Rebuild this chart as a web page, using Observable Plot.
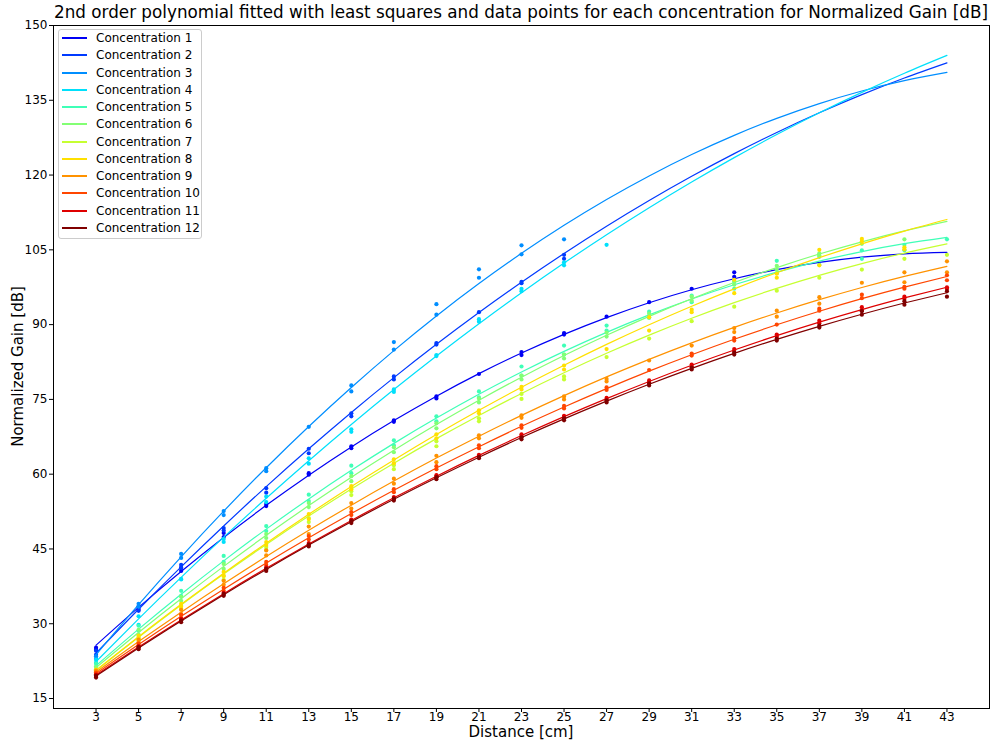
<!DOCTYPE html>
<html><head><meta charset="utf-8">
<script src="https://cdn.jsdelivr.net/npm/d3@7"></script>
<script src="https://cdn.jsdelivr.net/npm/@observablehq/plot@0.6"></script>
<style>
body{margin:0;background:#fff;font-family:"DejaVu Sans",sans-serif;color:#000;}
#wrap{position:relative;width:992px;height:740px;overflow:hidden;background:#fff;}
#chart{position:absolute;left:0;top:0;}
#title{position:absolute;left:53px;width:936px;top:3px;text-align:center;font-size:16.8px;line-height:19px;white-space:nowrap;}
#xlabel{position:absolute;left:53px;width:936px;top:724.5px;text-align:center;font-size:15px;line-height:15px;height:15px;white-space:nowrap;}
#ylabel{position:absolute;left:18px;top:366.5px;width:300px;height:17px;margin-left:-150px;margin-top:-8.5px;line-height:17px;text-align:center;font-size:15px;transform:rotate(-90deg);white-space:nowrap;}
#legend{position:absolute;left:58px;top:29px;width:144px;height:210px;border:1px solid #cccccc;border-radius:3px;background:rgba(255,255,255,0.8);box-sizing:border-box;}
.sw{position:absolute;left:62px;width:25px;height:1.4px;}
.lt{position:absolute;left:96px;height:16px;line-height:16px;font-size:12px;white-space:nowrap;}
</style>
</head><body>
<div id="wrap">
  <div id="chart"></div>
  <div id="title">2nd order polynomial fitted with least squares and data points for each concentration for Normalized Gain [dB]</div>
  <div id="ylabel">Normalized Gain [dB]</div>
  <div id="xlabel">Distance [cm]</div>
  <div id="legend"></div>
</div>
<script>
const distances = [3,5,7,9,11,13,15,17,19,21,23,25,27,29,31,33,35,37,39,41,43];
const xTicks = [3,5,7,9,11,13,15,17,19,21,23,25,27,29,31,33,35,37,39,41,43];
const yTicks = [15,30,45,60,75,90,105,120,135,150];
const concentrations = ["Concentration 1","Concentration 2","Concentration 3","Concentration 4","Concentration 5","Concentration 6","Concentration 7","Concentration 8","Concentration 9","Concentration 10","Concentration 11","Concentration 12"];
const colors = ["#0000f4","#003aff","#008eff","#00e0fb","#3fffb7","#83ff74","#c6ff31","#ffe000","#ff9200","#ff4600","#df0000","#800000"];

// fitted curve values at each distance
const fit1 = [25.7,33.29,40.49,47.31,53.75,59.8,65.47,70.75,75.65,80.17,84.3,88.05,91.41,94.39,96.99,99.2,101.03,102.47,103.53,104.21,104.5];
const fit2 = [24.1,32.91,41.41,49.61,57.51,65.1,72.39,79.37,86.05,92.43,98.5,104.27,109.73,114.89,119.75,124.3,128.55,132.49,136.13,139.47,142.5];
const fit3 = [23.78,33.82,43.42,52.58,61.3,69.57,77.4,84.79,91.74,98.24,104.3,109.92,115.1,119.83,124.12,127.97,131.38,134.34,136.86,138.94,140.58];
const fit4 = [22.4,30.99,39.31,47.37,55.17,62.7,69.97,76.97,83.71,90.19,96.4,102.35,108.03,113.45,118.61,123.5,128.13,132.49,136.59,140.43,144.0];
const fit5 = [21.59,28.92,35.93,42.61,48.98,55.04,60.77,66.18,71.27,76.05,80.5,84.64,88.45,91.95,95.13,97.99,100.52,102.75,104.65,106.23,107.49];
const fit6 = [21.2,28.24,35.01,41.51,47.74,53.7,59.39,64.81,69.96,74.84,79.45,83.79,87.86,91.66,95.19,98.45,101.44,104.16,106.61,108.79,110.7];
const fit7 = [20.6,27.31,33.77,39.97,45.91,51.6,57.03,62.21,67.13,71.79,76.2,80.35,84.25,87.89,91.27,94.4,97.27,99.89,102.25,104.35,106.2];
const fit8 = [20.69,27.41,33.89,40.15,46.17,51.96,57.52,62.85,67.95,72.81,77.45,81.85,86.03,89.97,93.68,97.16,100.41,103.43,106.21,108.77,111.09];
const fit9 = [20.3,26.42,32.33,38.02,43.49,48.75,53.79,58.62,63.23,67.62,71.8,75.76,79.51,83.04,86.35,89.45,92.33,95.0,97.45,99.68,101.7];
const fit10 = [20.0,25.84,31.49,36.94,42.19,47.25,52.11,56.77,61.25,65.52,69.6,73.48,77.17,80.67,83.96,87.07,89.97,92.68,95.2,97.52,99.65];
const fit11 = [19.7,25.33,30.77,36.04,41.12,46.01,50.73,55.26,59.6,63.77,67.75,71.55,75.16,78.6,81.85,84.91,87.8,90.5,93.01,95.35,97.5];
const fit12 = [19.5,25.13,30.57,35.83,40.9,45.78,50.47,54.97,59.28,63.41,67.35,71.1,74.66,78.04,81.23,84.23,87.04,89.66,92.09,94.34,96.4];

// measured data points, one list per distance (starting at 3 cm)
const pts1 = [[25.2,24.8],[33.2,32.8],[41.2,40.6],[48.2,47.4],[54.0,53.6],[60.2,59.9],[65.6,65.2],[70.8,70.5],[75.6,75.2],[80.1],[84.5,83.9],[88.3,88.0],[91.6],[94.5],[97.2],[100.5,99.6]];
const pts2 = [[24.6,23.8],[33.5,32.6],[41.8,41.2],[49.2,48.7],[57.2,56.3],[65.1,64.2],[72.2,71.6],[79.6,79.0],[86.3,86.0],[92.5],[98.6,98.3],[104.0,103.2]];
const pts3 = [[23.5,23.0],[34.0,33.4],[44.0,43.2],[52.6,51.8],[61.2,60.6],[69.5],[77.8,76.6],[86.5,85.0],[94.1,92.0],[101.1,99.4],[105.9,104.1],[107.1]];
const pts4 = [[22.8,22.2],[31.5,29.8],[39.0,38.9],[47.0,46.4],[55.5,54.4],[63.2,62.1],[69.0,68.5],[77.0,76.5],[83.9,83.7],[91.1,90.6],[97.2,96.7],[102.5,101.9],[106.0]];
const pts5 = [[22.0,21.4],[29.6,28.6],[36.6,35.6],[43.6,42.4],[49.6,48.6],[55.9,54.6],[61.7,60.2],[66.8,65.8],[71.6,70.6],[76.6,75.4],[81.6,79.8],[85.8,84.0],[89.8,88.8],[92.6,91.4],[95.8,94.5],[98.6,97.2],[102.8,100.3],[103.6,102.0],[104.9,103.2],[104.9,106.0],[107.1]];
const pts6 = [[21.3,20.8],[28.8,27.8],[35.4,34.6],[42.0,41.0],[48.0,47.2],[54.2,53.4],[59.6,58.6],[65.4,64.4],[70.2,69.2],[75.2,74.4],[79.8,79.0],[84.0,83.2],[88.4,87.6],[92.2,91.4],[95.6,94.8],[98.8,98.0],[101.8,101.0],[104.3,103.9],[106.2],[107.1],[]];
const pts7 = [[20.6,20.2],[27.2,26.6],[33.6,33.0],[39.6,38.8],[45.4,44.8],[51.2,50.4],[56.6,55.8],[61.8,61.0],[66.6,65.6],[71.2,70.6],[76.1,75.1],[79.6,79.0],[83.5],[87.2],[90.7],[93.6],[96.8],[99.4],[101.05],[103.2],[104.0]];
const pts8 = [[20.8,20.4],[27.6,27.0],[34.0,33.4],[40.4,39.6],[46.4,45.8],[52.0,51.0],[57.6,57.0],[63.0,62.2],[68.0,67.2],[72.8,72.2],[77.5,77.0],[81.8,81.0],[85.1],[91.5,88.8],[93.0,92.5],[99.0,96.3],[100.2,99.4],[105.0,101.9],[107.2,106.7],[105.5,105.1],[]];
const pts9 = [[20.6,20.1],[26.8,26.2],[32.8,32.0],[38.6,37.8],[44.7,43.7],[49.5,48.0],[54.2,53.1],[59.1,58.1],[63.7,62.4],[67.8,67.2],[71.8,71.3],[75.6,75.0],[79.1,78.6],[82.8],[85.8],[89.3,88.5],[92.8,91.6],[95.5,94.2],[98.4],[100.5,98.5],[102.7,100.5]];
const pts10 = [[20.2,19.8],[26.0,25.6],[31.8,31.2],[37.2,36.6],[42.4,41.8],[47.6,46.9],[52.4,51.8],[57.0,56.4],[61.6,61.0],[65.8,65.2],[69.8,69.3],[73.7,73.2],[77.4,76.9],[80.9],[84.2,83.8],[87.3,86.8],[90.0],[93.2,92.8],[96.0,95.3],[97.6,97.2],[99.9,98.9]];
const pts11 = [[19.8,19.5],[25.5,25.2],[31.0,30.6],[36.2,35.8],[41.3,40.9],[46.2,45.8],[50.9,50.5],[55.4,55.0],[59.8,59.4],[63.9,63.5],[68.0,67.6],[71.7,71.3],[75.3,74.9],[78.8,78.4],[82.0,81.6],[85.1,84.7],[88.0,87.6],[90.8,90.3],[93.5,92.9],[95.6,95.2],[97.5,97.2]];
const pts12 = [[19.6,19.2],[25.3,24.9],[30.7,30.3],[36.0,35.6],[41.0,40.6],[45.9,45.5],[50.6,50.2],[55.1,54.7],[59.4,59.0],[63.5,63.2],[67.4,67.0],[71.2,70.8],[74.8,74.4],[78.2,77.8],[81.4,81.0],[84.4,84.0],[87.2,86.8],[89.8,89.4],[92.7,92.0],[94.7,94.0],[96.7,95.6]];

const fits = [fit1,fit2,fit3,fit4,fit5,fit6,fit7,fit8,fit9,fit10,fit11,fit12];
const pts = [pts1,pts2,pts3,pts4,pts5,pts6,pts7,pts8,pts9,pts10,pts11,pts12];

const marks = [];
concentrations.forEach((name, i) => {
  const lineData = distances.map((d, j) => ({x: d, y: fits[i][j]}));
  const dotData = [];
  pts[i].forEach((vals, j) => vals.forEach(v => dotData.push({x: distances[j], y: v})));
  marks.push(Plot.line(lineData, {x: "x", y: "y", stroke: colors[i], strokeWidth: 1.2, curve: "natural"}));
  marks.push(Plot.dot(dotData, {x: "x", y: "y", r: 2.1, fill: colors[i], stroke: "none"}));
});
marks.push(Plot.axisX(xTicks, {tickSize: 4, tickPadding: 0, label: null, tickFormat: d => String(d)}));
marks.push(Plot.axisY(yTicks, {tickSize: 4, tickPadding: 2, label: null, tickFormat: d => String(d)}));
marks.push(Plot.frame({stroke: "black", strokeWidth: 1}));

const chart = Plot.plot({
  width: 992, height: 740,
  marginTop: 25, marginBottom: 32, marginLeft: 53, marginRight: 3,
  x: {type: "linear", domain: [1, 45]},
  y: {type: "linear", domain: [13, 150]},
  style: {fontFamily: "DejaVu Sans", fontSize: "12px", color: "black", background: "white", overflow: "visible"},
  marks
});
document.getElementById("chart").appendChild(chart);

const holder = document.getElementById("wrap");
concentrations.forEach((name, i) => {
  const yc = Math.round(38 + i * 17.27);
  const sw = document.createElement("div");
  sw.className = "sw";
  sw.style.top = (yc - 0.7) + "px";
  sw.style.background = colors[i];
  holder.appendChild(sw);
  const t = document.createElement("div");
  t.className = "lt";
  t.style.top = (yc - 8) + "px";
  t.textContent = name;
  holder.appendChild(t);
});
</script>
</body></html>
